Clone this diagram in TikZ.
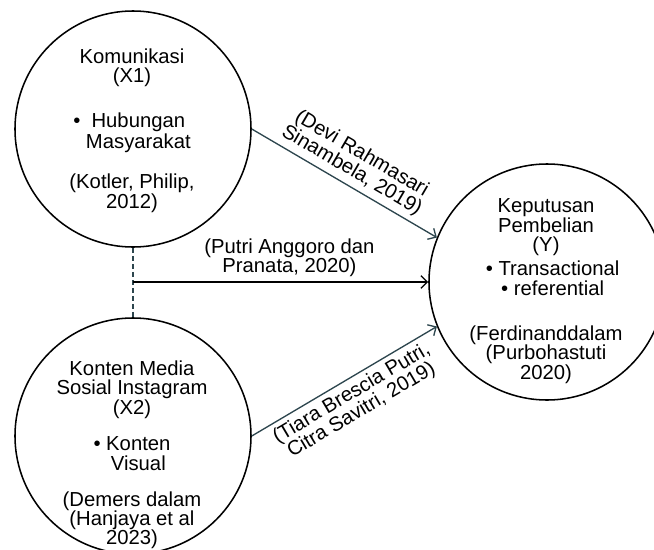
\documentclass[tikz,border=0pt]{standalone}
\usepackage{fontspec}
\setmainfont{Liberation Sans}
\usetikzlibrary{arrows.meta}
\definecolor{linkcol}{RGB}{45,70,78}

\begin{document}
\begin{tikzpicture}[x=0.75pt, y=-0.75pt,
		every node/.style={font=\fontsize{15.2}{14.6}\selectfont},
		var/.style={circle, draw, line width=1.15pt, minimum size=177pt, inner sep=0pt},
		vartext/.style={align=center, inner sep=0pt},
		link/.style={draw=linkcol, line width=1pt, -{Straight Barb[length=4.8pt,width=9.5pt]}},
		lbl/.style={align=center, sloped}]
	\useasboundingbox (0,0) rectangle (654,550);

	\node[var] (x1) at (133,129) {};
	\node[var] (x2) at (133,436) {};
	\node[var] (y)  at (547,282) {};

	\node[vartext] (x1txt) at (132,130.3) {Komunikasi\\(X1)\\[19.2pt]\textbullet\ {\begin{tabular}[t]{@{}c@{}}Hubungan\\Masyarakat\end{tabular}}\\[14pt](Kotler, Philip,\\2012)};
	\node[vartext] (x2txt) at (132,454.8) {Konten Media\\Sosial Instagram\\(X2)\\[12.4pt]\textbullet\ {\begin{tabular}[t]{@{}c@{}}Konten\\Visual\end{tabular}}\\[10.2pt](Demers dalam\\(Hanjaya et al\\2023)};
	\node[vartext] (ytxt) at (546,291.3) {Keputusan\\Pembelian\\(Y)\\[3.4pt]\hspace*{10pt}\textbullet\ Transactional\\\hspace*{10pt}\textbullet\ referential\\[19.2pt](Ferdinanddalam\\(Purbohastuti\\2020)};

	\coordinate (junc) at (x1.south |- y.west);

	\draw[draw=linkcol, line width=1pt, dash pattern=on 3.8pt off 2.2pt] (x1.south) -- (x2.north);
	\draw[link] (x1.east) -- node[lbl, above] {(Devi Rahmasari\\Sinambela, 2019)} (y.158);
	\draw[link, draw=black] (junc) -- node[above, pos=0.53, align=center] {(Putri Anggoro dan\\Pranata, 2020)} (y.west);
	\draw[link] (x2.east) -- node[lbl, below] {(Tiara Brescia Putri,\\Citra Savitri, 2019)} (y.202);
\end{tikzpicture}
\end{document}
